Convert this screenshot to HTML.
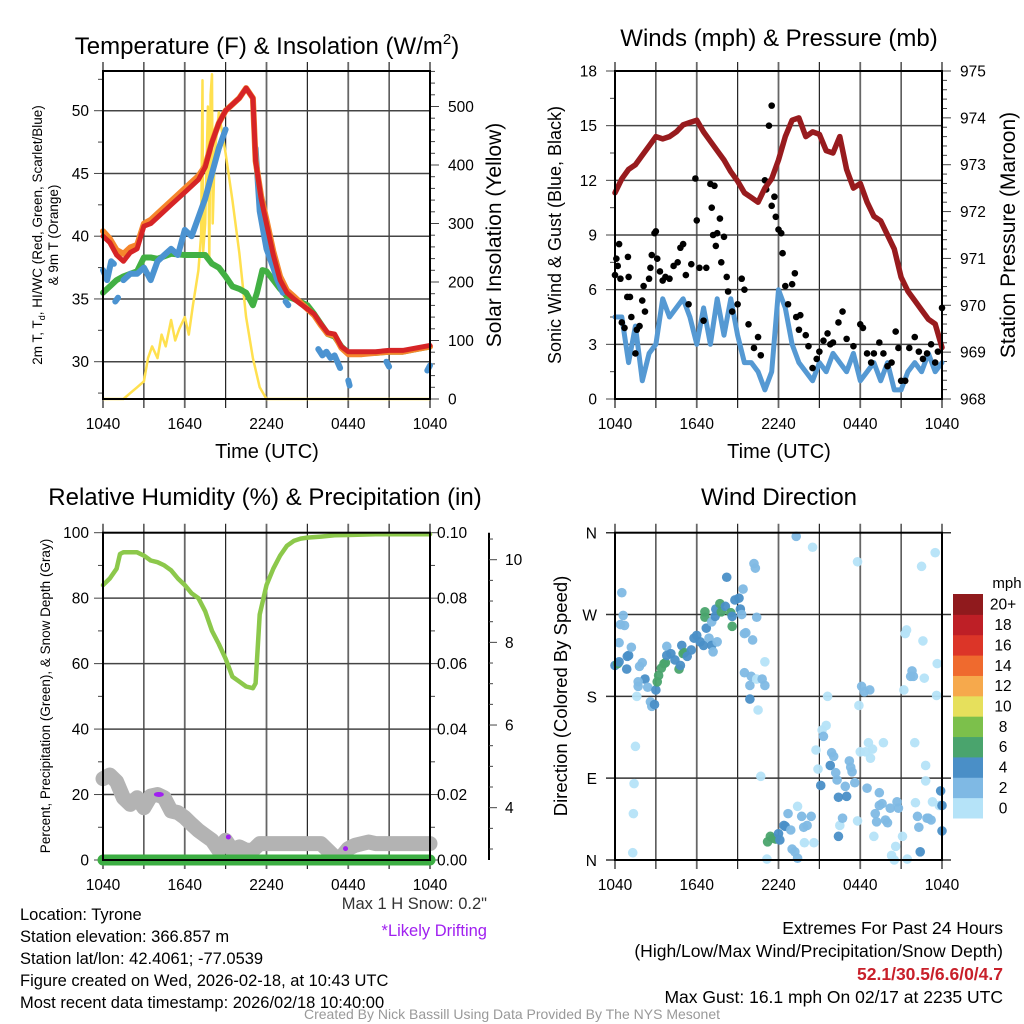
<!DOCTYPE html>
<html><head><meta charset="utf-8"><style>
html,body{margin:0;padding:0;background:#fff;}
svg{display:block;font-family:"Liberation Sans",sans-serif;}
</style></head><body>
<svg id="fig" width="1024" height="1024" viewBox="0 0 1024 1024" xmlns="http://www.w3.org/2000/svg">
<rect width="1024" height="1024" fill="#fff"/>
<g id="layer"></g>
<text x="267" y="54" font-size="24" text-anchor="middle">Temperature (F) &amp; Insolation (W/m<tspan font-size="15" dy="-10">2</tspan><tspan dy="10">)</tspan></text>
<text x="779" y="46" font-size="24" text-anchor="middle">Winds (mph) &amp; Pressure (mb)</text>
<text x="265" y="505" font-size="24" text-anchor="middle">Relative Humidity (%) &amp; Precipitation (in)</text>
<text x="779" y="505" font-size="24" text-anchor="middle">Wind Direction</text>
<text x="267" y="458" font-size="20" text-anchor="middle">Time (UTC)</text>
<text x="779" y="458" font-size="20" text-anchor="middle">Time (UTC)</text>
<text transform="translate(42,235) rotate(-90)" font-size="13.5" text-anchor="middle">2m T, T<tspan font-size="9" dy="3">d</tspan><tspan dy="-3">, HI/WC (Red, Green, Scarlet/Blue)</tspan></text>
<text transform="translate(58,235) rotate(-90)" font-size="13.5" text-anchor="middle">&amp; 9m T (Orange)</text>
<text transform="translate(501,235) rotate(-90)" font-size="21" text-anchor="middle">Solar Insolation (Yellow)</text>
<text transform="translate(561,235) rotate(-90)" font-size="18" text-anchor="middle">Sonic Wind &amp; Gust (Blue, Black)</text>
<text transform="translate(1015,235) rotate(-90)" font-size="21" text-anchor="middle">Station Pressure (Maroon)</text>
<text transform="translate(50,696) rotate(-90)" font-size="13.5" text-anchor="middle">Percent, Precipitation (Green), &amp; Snow Depth (Gray)</text>
<text transform="translate(567,696) rotate(-90)" font-size="18.5" text-anchor="middle">Direction (Colored By Speed)</text>
<g font-size="16.5">
<text x="20" y="920">Location: Tyrone</text>
<text x="20" y="942">Station elevation: 366.857 m</text>
<text x="20" y="964">Station lat/lon: 42.4061; -77.0539</text>
<text x="20" y="986">Figure created on Wed, 2026-02-18, at 10:43 UTC</text>
<text x="20" y="1008">Most recent data timestamp: 2026/02/18 10:40:00</text>
<text x="487" y="909" text-anchor="end" fill="#333">Max 1 H Snow: 0.2"</text>
<text x="487" y="936" text-anchor="end" fill="#a020f0">*Likely Drifting</text>
</g>
<g font-size="17.5">
<text x="1003" y="934" text-anchor="end">Extremes For Past 24 Hours</text>
<text x="1003" y="957" text-anchor="end">(High/Low/Max Wind/Precipitation/Snow Depth)</text>
<text x="1003" y="980" text-anchor="end" fill="#c8202a" font-weight="bold">52.1/30.5/6.6/0/4.7</text>
<text x="1003" y="1003" text-anchor="end">Max Gust: 16.1 mph On 02/17 at 2235 UTC</text>
</g>
<text x="512" y="1019" font-size="14" text-anchor="middle" fill="#999">Created By Nick Bassill Using Data Provided By The NYS Mesonet</text>
</svg>
<script>
// ---------- data ----------
const xTickLabels = ["1040","1640","2240","0440","1040"];
const tempTimes = [0,0.5,1,1.5,2,2.5,3,3.5,4,5,6,7,7.5,8,8.5,9,10,10.5,11,11.2,11.6,12,12.5,13,13.5,14,14.5,15,15.5,16,16.5,17,17.5,18,18.5,19,20,21,22,23,24];
const tempRed = [40,39.5,38.5,38,38.7,39,40.8,41,41.5,42.5,43.5,44.5,45.5,47.5,49,50,51,51.8,51,46,43,41,38.5,36.5,35.5,35,34.6,34.2,33.8,33,32.3,32.2,31.2,30.8,30.8,30.8,30.8,30.9,30.9,31.1,31.3];
const tempOrange = [40.4,39.8,38.9,38.6,39.1,39.3,41,41.3,41.8,42.8,43.8,44.8,45.6,47.5,49,50,51,51.8,51,46,43.2,41.3,38.8,36.8,35.7,35.2,34.7,34.2,33.7,32.9,32.2,32.1,31.1,30.6,30.6,30.6,30.7,30.8,30.8,31,31.2];
const dewTimes = [0,0.5,1,1.5,2,2.5,3,3.5,4,5,6,7,7.5,8,8.5,9,9.5,10,10.5,11,11.3,11.7,12,12.5,13,13.5,14,15,15.5,16,16.5,17,17.5,18,19,20,21,22,23,24];
const dewValues = [35.5,36,36.5,36.8,37,37.2,38.3,38.3,38.2,38.6,38.5,38.5,38.5,37.8,37.5,36.8,36,35.8,35.5,34.5,35.5,37.3,37.2,36.5,35.8,35.2,35,34.5,33.8,33,32.2,32,31.2,30.7,30.7,30.7,30.8,30.8,31,31.2];
const hiwcTimes = [0,0.3,0.6,0.8,null,0.9,1.1,null,1.5,2,2.5,3,3.5,4,4.5,5,5.5,6,6.5,7,7.5,8,8.5,9,null,11.2,11.5,12,12.5,12.8,13.2,null,13.4,13.6,null,15.8,16.1,16.4,16.7,17,17.4,null,18,18.1,null,20.8,21,null,23.8,24];
const hiwcValues = [37.3,36.5,38,37.8,null,34.8,35.1,null,36.5,37,37,37.5,36.5,38,38.5,39,38.5,40.5,40,41.5,43,45,47,48.5,null,47,42,39,37.5,36.5,35.5,null,34.8,34.5,null,31,30.5,30.8,30.3,30.5,29.5,null,28.5,28.1,null,30,29.6,null,29.3,29.7];
const solarTimes = [0,1.5,2,2.5,3,3.3,3.6,4,4.3,4.6,5,5.3,5.6,6,6.3,6.6,7,7.2,7.3,7.35,7.5,7.7,7.8,7.9,8,8.05,8.2,8.5,9,9.5,10,10.5,11,11.5,12,24];
const solarValues = [0,0,10,20,30,70,90,70,110,90,135,100,120,140,110,160,220,280,545,250,300,500,240,520,555,300,420,490,420,340,250,140,70,20,0,0];
const pressureValues = [972.4,972.7,972.9,973.0,973.2,973.4,973.6,973.55,973.6,973.7,973.85,973.9,973.95,973.7,973.5,973.3,973.1,972.85,972.65,972.4,972.3,972.2,972.5,972.7,973.1,973.6,973.95,974.0,973.6,973.7,973.65,973.3,973.25,973.6,972.9,972.5,972.6,972.2,971.9,971.8,971.5,971.2,970.6,970.3,970.1,969.9,969.7,969.6,969.1];
const windValues = [4.5,4.5,2,4,1,2.5,3,5.5,4.5,5,5.5,4.5,3,5,3,5.5,3.5,5.5,3.5,2,2,1.5,0.5,1.5,6,5,3,2,1.5,1,2,1.5,2.5,2,1.5,2.5,1,1.5,2,1,2,0.5,0.5,1.5,2,1.5,2.5,1.5,2];
const gustTimes = [0,0.1,0.2,0.3,0.4,0.5,0.7,0.9,0.95,1,1.1,1.2,1.5,1.6,1.8,2,2.1,2.2,2.5,2.6,2.7,2.9,3,3.1,3.3,3.5,3.7,4,4.3,4.6,4.8,5,5.2,5.4,5.6,5.9,6,6.2,6.5,6.7,7,7.1,7.2,7.3,7.4,7.5,7.7,7.8,8,8.2,8.3,8.6,9,9.3,9.5,9.8,10.2,10.5,10.7,11,11.1,11.3,11.5,11.5,11.7,11.8,12,12.2,12.3,12.5,12.7,13,13.2,13.3,13.5,13.6,14,14.2,14.5,14.8,15,15.3,15.6,15.8,16,16.4,16.7,17,17.5,18,18.2,18.5,18.8,19,19.4,19.7,20,20.3,20.6,20.8,21,21.3,21.6,22,22.3,22.6,22.9,23.2,23.5,23.7,24];
const gustValues = [6.8,7.7,7.3,8.5,6.6,4.2,3.9,5.6,7.8,6.7,5.6,4.5,2.5,3.8,4,5.4,6.2,4.8,6.6,7.2,7.9,9.1,9.2,7.7,7,6.5,6.7,6.6,7.3,7.5,8.3,8.5,6.8,5.2,7.4,12.1,9.8,7.2,4.3,7.2,11.8,10.5,9,11.7,8.4,9.1,9.9,7.5,8.9,6.7,5.9,4.8,5.2,6.6,6,4.1,2.8,3.4,2.4,12,11.5,15,16.1,10.6,11.1,10,9.3,9.1,8,6.2,5.2,6.3,6.9,4.5,3.8,4.6,3.5,2.9,1.7,2.2,2.6,3.2,3.6,3,3.1,4.2,4.8,3.3,2.9,4.1,3.9,2.5,2,2.5,3.1,2.5,1.8,2,3.7,2.8,1,1,2.8,3.4,2.6,2.2,2.5,3,2,2.6,5];
const rhTimes = [0,0.5,1,1.25,1.5,2,2.5,3,3.5,4,4.5,5,5.5,6,6.5,7,7.5,8,8.5,9,9.5,10,10.5,11,11.2,11.5,12,12.5,13,13.5,14,14.5,15,16,17,18,20,24];
const rhValues = [84,86,89,93.5,94,94,94,93,91.5,91,90,88.5,86,84,81.5,80,76,70,66,61.5,56,54.5,53,52.5,54,75,84,89,93,96,97.5,98.2,98.5,98.8,99.2,99.3,99.5,99.5];
const precipValues = [0,0,0,0,0,0,0,0,0,0,0,0,0,0,0,0,0,0,0,0,0,0,0,0,0,0,0,0,0,0,0,0,0,0,0,0,0,0,0,0,0,0,0,0,0,0,0,0,0];
const snowValues = [4.7,4.79,4.63,4.24,4.08,4.24,4.0,4.28,4.32,4.24,3.92,3.88,3.76,3.6,3.45,3.33,3.21,2.97,3.21,2.97,3.05,2.97,2.97,3.13,3.13,3.13,3.13,3.13,3.13,3.13,3.13,3.13,3.13,2.97,2.81,2.81,3.01,3.09,3.13,3.17,3.13,3.13,3.13,3.13,3.13,3.13,3.13,3.13,3.13];
const driftTimes = [4.1,9.2,17.8];
const driftValues = [4.32,3.29,3.01];
const dirTimes = [0,0.2,0.3,0.5,0.6,0.4,0.7,0.3,0.86,1.0,1.2,0.9,2.0,1.8,2.2,1.7,1.7,2.4,1.6,2.6,2.7,2.9,3.0,3.1,3.2,3.4,3.6,3.7,3.8,3.8,4.1,4.4,4.7,4.8,5.0,4.9,5.1,5.3,5.6,5.8,6.0,6.25,6.5,6.7,6.9,7.1,7.2,7.5,6.6,6.6,7.1,7.35,7.4,7.7,7.8,8.1,8.2,8.5,8.6,8.6,8.8,9.1,9.2,9.3,9.4,9.5,9.6,10.1,10.2,10.3,10.4,9.5,10.0,9.9,10.4,10.8,11.0,9.9,10.5,11.0,1.5,1.4,1.35,1.3,10.7,11.15,11.2,11.4,11.6,11.8,12.0,12.1,12.4,12.5,12.7,12.9,13.0,13.2,13.4,13.3,13.4,13.7,13.85,14.1,13.9,14.4,14.6,14.5,14.75,14.9,15.1,15.2,15.3,15.5,15.6,15.8,15.9,16.05,16.2,16.3,16.4,16.5,16.7,16.4,16.9,17.0,17.2,17.3,17.4,17.6,17.8,17.8,17.9,18.0,18.1,18.3,18.4,18.5,18.6,18.7,18.75,18.9,19.0,19.1,19.2,19.4,19.4,19.6,19.7,19.85,20.0,20.2,20.3,20.5,20.6,20.7,20.8,21.1,21.2,21.3,21.4,21.45,21.7,21.8,21.9,22.0,22.05,22.2,22.3,22.4,22.5,22.6,22.7,22.8,22.8,22.9,23.0,23.2,23.3,23.5,23.6,23.65,23.8,23.9,24.0,24.0];
const dirDegrees = [214,216,218,294,269,259,258,239,210,225,234,224,217,213,199,196,191,190,180,174,169,171,187,196,203,211,216,217,235,225,227,220,210,214,227,236,228,224,231,244,247,240,236,255,244,236,229,240,267,273,262,268,276,282,273,279,311,272,257,268,286,288,276,270,298,249,250,242,326,321,267,206,202,192,199,199,192,177,165,218,125,84,51,8,92,1,20,26,24,23,29,22,38,37,51,33,12,9,2,356,59,48,36,38,19,48,19,344,121,100,82,143,136,148,180,104,118,114,96,88,69,38,46,26,81,70,109,102,97,85,328,43,170,119,191,185,119,79,129,187,112,122,26,51,42,60,74,62,129,44,41,57,5,0,15,64,57,26,187,249,253,1,202,208,202,129,63,48,36,9,323,241,200,104,87,46,46,44,64,338,181,216,60,76,60,32];
const dirSpeeds = [5,7,5,3,3,3,3,3,5,5,3,5,3,3,5,3,3,3,1,3,3,5,5,7,7,7,7,7,3,5,5,5,7,5,7,5,7,5,5,5,5,5,5,5,3,5,3,3,7,7,3,5,5,7,7,5,5,7,7,5,5,5,5,3,3,3,3,3,3,3,3,3,3,3,1,3,3,5,1,1,1,1,1,1,1,1,7,7,7,7,5,5,5,5,3,3,3,3,3,3,1,3,3,3,1,3,1,1,1,1,5,1,3,1,1,5,3,3,3,3,5,1,3,5,3,5,3,3,3,3,1,1,1,1,3,3,1,3,1,3,1,1,1,3,3,3,3,3,1,3,3,3,1,1,1,3,3,1,1,1,1,1,3,3,3,1,1,3,3,5,1,1,1,1,1,3,3,3,1,1,1,1,1,5,5,5];
const colorbarLabels = ["0","2","4","6","8","10","12","14","16","18","20+"];
const colorbarColors = ["#b5e3f8","#7fb9e4","#4a8fc7","#4aa46d","#7cc04b","#e6e05c","#f6a94c","#ef6a2e","#dc3528","#be1f26","#901a1d"];

// ---------- helpers ----------
const NS="http://www.w3.org/2000/svg";
const layer=document.getElementById('layer');
function mk(tag,attrs,parent){const e=document.createElementNS(NS,tag);for(const k in attrs)e.setAttribute(k,attrs[k]);(parent||layer).appendChild(e);return e;}
function pathD(ts,vs,fx,fy){let d="",pen=false;for(let i=0;i<ts.length;i++){if(ts[i]===null||vs[i]===null){pen=false;continue;}d+=(pen?"L":"M")+fx(ts[i]).toFixed(1)+" "+fy(vs[i]).toFixed(1);pen=true;}return d;}
const half=windValues.map((_,i)=>i*0.5);

function panel(ox,top,bot,name){
  const L=103+ox,R=430+ox;
  const g=mk('g',{});
  
  
  const xs=t=>L+t/24*(R-L);
  for(let k=0;k<=8;k++){
    const x=xs(k*3);
    const ln=mk('line',{x1:x,x2:x,y1:top-9,y2:bot+9,stroke:(k%2?"#222":"#666"),'stroke-width':k%2?1.2:1.8},g);
    
    
  }
  for(let k=0;k<5;k++){
    const t=mk('text',{x:xs(k*6),y:bot+30,'font-size':15.5,'text-anchor':'middle'},g);
    t.textContent=xTickLabels[k];
    
    
  }
  return {g,xs,L,R};
}
function frame(p,top,bot){
  const r=mk('rect',{x:p.L,y:top,width:p.R-p.L,height:bot-top,fill:'none',stroke:'#000','stroke-width':2},p.g);
  
  
}
function yAxis(p,side,vmin,vmax,fy,major,minor,fmt,grid,labelX,name){
  const g=mk('g',{},p.g);
  
  
  const x0=side<0?p.L:p.R;
  const n=Math.round((vmax-vmin)/minor);
  for(let i=0;i<=n;i++){
    const v=vmin+i*minor, y=fy(v);
    const isMaj=Math.abs(v/major-Math.round(v/major))<1e-6;
    mk('line',{x1:x0,x2:x0+side*(isMaj?9:5),y1:y,y2:y,stroke:'#444','stroke-width':1},g);
    if(isMaj){
      if(grid) mk('line',{x1:p.L,x2:p.R,y1:y,y2:y,stroke:'#444','stroke-width':1.5},g);
      const t=mk('text',{x:labelX,y:y+5.5,'font-size':15.5,'text-anchor':side<0?'end':'start'},g);
      t.textContent=fmt(v);
      
      
    }
  }
}

// ---------- Panel 1: temperature ----------
(function(){
  const top=71,bot=399;
  const p=panel(0,top,bot,'temperature-panel');
  const ty=v=>361.7-(v-30)*12.55;
  const sy=v=>399-v*0.585;
  yAxis(p,-1,27.5,52.5,ty,5,2.5,v=>String(v),true,89,'temp-left-axis');
  yAxis(p,1,0,560,sy,100,20,v=>String(v),false,448,'solar-right-axis');
  const s1=mk('path',{d:pathD(solarTimes,solarValues,p.xs,sy),fill:'none',stroke:'#ffe04f','stroke-width':2.5,'stroke-linejoin':'round'},p.g);
  
  const s2=mk('path',{d:pathD(dewTimes,dewValues,p.xs,ty),fill:'none',stroke:'#42b043','stroke-width':6,'stroke-linejoin':'round','stroke-linecap':'round'},p.g);
  
  const s3=mk('path',{d:pathD(hiwcTimes,hiwcValues,p.xs,ty),fill:'none',stroke:'#4b93d1','stroke-width':6,'stroke-linejoin':'round','stroke-linecap':'round'},p.g);
  
  const s4=mk('path',{d:pathD(tempTimes,tempOrange,p.xs,ty),fill:'none',stroke:'#f5862c','stroke-width':6,'stroke-linejoin':'round','stroke-linecap':'round'},p.g);
  
  const s5=mk('path',{d:pathD(tempTimes,tempRed,p.xs,ty),fill:'none',stroke:'#d62426','stroke-width':5,'stroke-linejoin':'round','stroke-linecap':'round'},p.g);
  
  frame(p,top,bot);
})();

// ---------- Panel 2: wind & pressure ----------
(function(){
  const top=71,bot=399;
  const p=panel(512,top,bot,'wind-pressure-panel');
  const wy=v=>399-v*328/18;
  const py=v=>399-(v-968)*328/7;
  yAxis(p,-1,0,18,wy,3,1.5,v=>String(v),true,597,'wind-left-axis');
  yAxis(p,1,968,975,py,1,0.2,v=>String(Math.round(v)),false,960,'pressure-right-axis');
  const w=mk('path',{d:pathD(half,windValues,p.xs,wy),fill:'none',stroke:'#5599d3','stroke-width':5,'stroke-linejoin':'round','stroke-linecap':'round'},p.g);
  
  for(let i=0;i<gustTimes.length;i++){
    const c=mk('circle',{cx:p.xs(gustTimes[i]),cy:wy(gustValues[i]),r:3.3,fill:'#000'},p.g);
    
    
  }
  const pr=mk('path',{d:pathD(half,pressureValues,p.xs,py),fill:'none',stroke:'#981b1e','stroke-width':5.5,'stroke-linejoin':'round','stroke-linecap':'round'},p.g);
  
  frame(p,top,bot);
})();

// ---------- Panel 3: RH, precip, snow ----------
(function(){
  const top=532.7,bot=860;
  const p=panel(0,top,bot,'humidity-panel');
  const ry=v=>860-v*3.273;
  const qy=v=>860-v*3273;
  const sny=v=>973-v*41.33;
  yAxis(p,-1,0,100,ry,20,10,v=>String(v),true,89,'rh-left-axis');
  yAxis(p,1,0,0.1,qy,0.02,0.01,v=>v.toFixed(2),false,437,'precip-right-axis');
  const sg=mk('g',{},p.g);
  
  mk('line',{x1:489,x2:489,y1:top,y2:bot,stroke:'#000','stroke-width':2},sg);
  for(let v=3;v<=10.5;v+=0.5){
    const isMaj=Math.abs(v/2-Math.round(v/2))<1e-6;
    mk('line',{x1:489,x2:489+(isMaj?8:4),y1:sny(v),y2:sny(v),stroke:'#444','stroke-width':1},sg);
    if(isMaj&&v>=4){const t=mk('text',{x:505,y:sny(v)+5.5,'font-size':15.5},sg);t.textContent=String(v);
      }
  }
  const sn=mk('path',{d:pathD(half,snowValues,p.xs,sny),fill:'none',stroke:'#b3b3b3','stroke-width':15,'stroke-linejoin':'round','stroke-linecap':'round'},p.g);
  
  for(let i=0;i<driftTimes.length;i++){
    const c=mk('ellipse',{cx:p.xs(driftTimes[i]),cy:sny(driftValues[i]),rx:i===0?5:2.5,ry:2.5,fill:'#a020f0'},p.g);
    
  }
  const pq=mk('path',{d:pathD(half,precipValues,p.xs,qy),fill:'none',stroke:'#3cae43','stroke-width':11,'stroke-linecap':'round'},p.g);
  
  const rh=mk('path',{d:pathD(rhTimes,rhValues,p.xs,ry),fill:'none',stroke:'#8cc84b','stroke-width':4.5,'stroke-linejoin':'round','stroke-linecap':'round'},p.g);
  
  frame(p,top,bot);
})();

// ---------- Panel 4: wind direction ----------
(function(){
  const top=532.7,bot=860;
  const p=panel(512,top,bot,'wind-direction-panel');
  const dy=v=>860-v/360*327.3;
  const names=["N","E","S","W","N"];
  for(let k=0;k<5;k++){
    const y=dy(k*90);
    mk('line',{x1:p.L-9,x2:p.R+9,y1:y,y2:y,stroke:'#333','stroke-width':1.5},p.g);
    const t=mk('text',{x:597,y:y+6,'font-size':15.5,'text-anchor':'end'},p.g);
    t.textContent=names[k];
    
  }
  for(let i=0;i<dirTimes.length;i++){
    const ci=Math.min(10,Math.floor(dirSpeeds[i]/2));
    const c=mk('circle',{cx:p.xs(dirTimes[i]),cy:dy(dirDegrees[i]),r:4.8,fill:colorbarColors[ci],'fill-opacity':0.95},p.g);
    
    
  }
  frame(p,top,bot);
  const cb=mk('g',{});
  
  const cbTop=594,cbH=224/11;
  for(let i=0;i<11;i++){
    const y=cbTop+(10-i)*cbH;
    const r=mk('rect',{x:953,y:y,width:30,height:cbH+0.5,fill:colorbarColors[i]},cb);
    
    const t=mk('text',{x:1003,y:y+cbH/2+5.5,'font-size':15.5,'text-anchor':'middle'},cb);
    t.textContent=colorbarLabels[i];
    
  }
  const u=mk('text',{x:1007,y:588,'font-size':15,'text-anchor':'middle'},cb);
  u.textContent="mph";
  
})();
</script>
</body></html>
